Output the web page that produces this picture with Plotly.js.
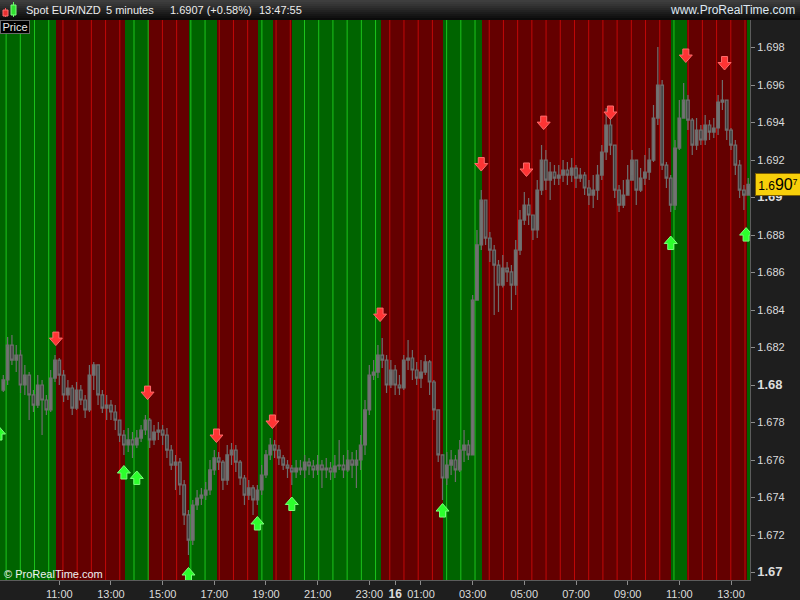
<!DOCTYPE html>
<html>
<head>
<meta charset="utf-8">
<script src="https://cdn.plot.ly/plotly-3.0.1.min.js"></script>
<style>html,body{margin:0;padding:0;background:#1e1e1e;}#chart{width:800px;height:600px;}</style>
</head>
<body>
<div id="chart"></div>
<script>
// ---------- DATA ----------
var barStart = '2014-10-15 08:50';   // first 10-minute candle
var barMinutes = 10;
var firstOpen = 1.67973;
var close = [1.68027,1.68213,1.68133,1.68160,1.68000,1.68053,1.67947,1.67893,1.68000,1.67920,
1.67867,1.68037,1.68133,1.68053,1.67947,1.67984,1.67877,1.67973,1.67920,1.67867,
1.68053,1.68107,1.67947,1.67877,1.67893,1.67856,1.67813,1.67733,1.67680,1.67707,
1.67680,1.67717,1.67760,1.67813,1.67707,1.67749,1.67760,1.67733,1.67653,1.67573,
1.67589,1.67467,1.67307,1.67173,1.67360,1.67397,1.67413,1.67440,1.67547,1.67611,
1.67589,1.67493,1.67627,1.67653,1.67589,1.67504,1.67413,1.67451,1.67387,1.67440,
1.67520,1.67627,1.67680,1.67653,1.67611,1.67573,1.67557,1.67536,1.67557,1.67547,
1.67589,1.67568,1.67547,1.67573,1.67547,1.67557,1.67536,1.67568,1.67573,1.67547,
1.67600,1.67573,1.67600,1.67680,1.67867,1.68053,1.68069,1.68160,1.68133,1.68000,
1.68080,1.68000,1.67984,1.68133,1.68144,1.68080,1.68037,1.68069,1.68123,1.68016,
1.67867,1.67627,1.67504,1.67573,1.67600,1.67547,1.67653,1.67680,1.67627,1.68453,
1.68747,1.68987,1.68784,1.68720,1.68640,1.68533,1.68624,1.68603,1.68533,1.68720,
1.68880,1.68960,1.68907,1.68827,1.69040,1.69200,1.69093,1.69136,1.69104,1.69120,
1.69147,1.69120,1.69157,1.69104,1.69120,1.69051,1.69013,1.69040,1.69120,1.69243,
1.69387,1.69280,1.69040,1.68960,1.69013,1.69093,1.69200,1.69040,1.69104,1.69136,
1.69200,1.69424,1.69600,1.69173,1.69104,1.68960,1.69264,1.69424,1.69520,1.69413,
1.69280,1.69360,1.69307,1.69387,1.69349,1.69371,1.69509,1.69520,1.69360,1.69280,
1.69173,1.69040,1.69013,1.69070];
var high = [1.68053,1.68256,1.68267,1.68213,1.68187,1.68107,1.68069,1.67973,1.68053,1.68027,
1.67947,1.68080,1.68160,1.68144,1.68080,1.68027,1.68000,1.68016,1.68000,1.67947,
1.68107,1.68123,1.68107,1.67973,1.67947,1.67920,1.67893,1.67813,1.67760,1.67771,
1.67749,1.67760,1.67787,1.67840,1.67824,1.67787,1.67803,1.67787,1.67771,1.67680,
1.67627,1.67611,1.67493,1.67333,1.67387,1.67440,1.67451,1.67483,1.67600,1.67653,
1.67643,1.67600,1.67680,1.67691,1.67680,1.67600,1.67520,1.67493,1.67467,1.67467,
1.67573,1.67653,1.67717,1.67707,1.67680,1.67627,1.67600,1.67573,1.67600,1.67600,
1.67627,1.67611,1.67600,1.67627,1.67600,1.67611,1.67589,1.67627,1.67707,1.67627,
1.67653,1.67643,1.67653,1.67733,1.67920,1.68107,1.68133,1.68213,1.68251,1.68160,
1.68133,1.68107,1.68053,1.68160,1.68240,1.68187,1.68123,1.68133,1.68160,1.68133,
1.68027,1.67867,1.67627,1.67643,1.67653,1.67627,1.67707,1.67760,1.67707,1.68480,
1.68827,1.69040,1.68987,1.68816,1.68747,1.68667,1.68693,1.68656,1.68640,1.68773,
1.68933,1.69029,1.68997,1.68907,1.69093,1.69280,1.69253,1.69189,1.69173,1.69173,
1.69200,1.69189,1.69211,1.69173,1.69157,1.69136,1.69093,1.69120,1.69173,1.69280,
1.69477,1.69424,1.69280,1.69067,1.69093,1.69173,1.69253,1.69200,1.69157,1.69227,
1.69264,1.69493,1.69803,1.69627,1.69189,1.69120,1.69307,1.69520,1.69611,1.69547,
1.69424,1.69424,1.69387,1.69440,1.69413,1.69424,1.69547,1.69627,1.69520,1.69371,
1.69307,1.69200,1.69067,1.69104];
var low = [1.67963,1.68000,1.68107,1.68069,1.67957,1.67947,1.67813,1.67856,1.67877,1.67733,
1.67840,1.67856,1.68016,1.68000,1.67909,1.67920,1.67840,1.67867,1.67893,1.67824,
1.67856,1.67973,1.67893,1.67851,1.67813,1.67813,1.67760,1.67696,1.67627,1.67643,
1.67611,1.67664,1.67696,1.67733,1.67664,1.67680,1.67707,1.67680,1.67611,1.67547,
1.67440,1.67413,1.67253,1.67093,1.67147,1.67333,1.67360,1.67387,1.67413,1.67520,
1.67547,1.67440,1.67467,1.67573,1.67536,1.67467,1.67360,1.67387,1.67307,1.67360,
1.67413,1.67504,1.67600,1.67611,1.67573,1.67547,1.67504,1.67467,1.67504,1.67520,
1.67504,1.67520,1.67504,1.67520,1.67451,1.67504,1.67493,1.67504,1.67547,1.67504,
1.67536,1.67504,1.67451,1.67547,1.67627,1.67840,1.68027,1.68037,1.68091,1.67957,
1.67984,1.67947,1.67947,1.67973,1.68080,1.68027,1.68000,1.67984,1.68053,1.67947,
1.67813,1.67589,1.67387,1.67467,1.67520,1.67483,1.67536,1.67589,1.67600,1.67627,
1.68453,1.68720,1.68747,1.68656,1.68373,1.68389,1.68520,1.68549,1.68400,1.68480,
1.68693,1.68853,1.68853,1.68773,1.68784,1.69013,1.69040,1.68987,1.69067,1.69067,
1.69083,1.69067,1.69083,1.69051,1.69083,1.69013,1.68960,1.68944,1.68987,1.69093,
1.69200,1.69227,1.68997,1.68923,1.68944,1.69013,1.69120,1.68960,1.69029,1.69067,
1.69093,1.69189,1.69387,1.69147,1.69051,1.68923,1.68933,1.69253,1.69424,1.69360,
1.69227,1.69253,1.69280,1.69280,1.69307,1.69317,1.69333,1.69467,1.69307,1.69253,
1.69120,1.68997,1.68933,1.69013];

// trend bands (edges and direction of each band)
var bandEdges = ['2014-10-15 08:30','2014-10-15 10:52','2014-10-15 13:33','2014-10-15 14:27','2014-10-15 16:01',
 '2014-10-15 17:06','2014-10-15 18:41','2014-10-15 19:16','2014-10-15 20:01','2014-10-15 23:27',
 '2014-10-16 01:52','2014-10-16 03:21','2014-10-16 10:41','2014-10-16 11:17','2014-10-16 13:36','2014-10-16 14:00'];
var bandTrend = ['up','down','up','down','up','down','up','down','up','down','up','down','up','down','up'];
var stripeStart = '2014-10-15 08:56:30';
var stripeStepMin = 33;

// signals
var sellTimes = ['2014-10-15 10:52','2014-10-15 14:25','2014-10-15 17:05','2014-10-15 19:15','2014-10-15 23:25',
 '2014-10-16 03:20','2014-10-16 05:05','2014-10-16 05:45','2014-10-16 08:20','2014-10-16 11:15','2014-10-16 12:45'];
var sellPrices = [1.68245,1.67957,1.67728,1.67803,1.68373,1.69176,1.69147,1.69397,1.69451,1.69755,1.69715];
var buyTimes = ['2014-10-15 08:40','2014-10-15 13:30','2014-10-15 14:00','2014-10-15 16:00','2014-10-15 18:40',
 '2014-10-15 20:00','2014-10-16 01:50','2014-10-16 10:40','2014-10-16 13:35'];
var buyPrices = [1.67744,1.67536,1.67507,1.66992,1.67264,1.67368,1.67333,1.68760,1.68805];

// axes
var xTickTimes = ['2014-10-15 11:00','2014-10-15 13:00','2014-10-15 15:00','2014-10-15 17:00','2014-10-15 19:00',
 '2014-10-15 21:00','2014-10-15 23:00','2014-10-16 00:00','2014-10-16 01:00','2014-10-16 03:00','2014-10-16 05:00',
 '2014-10-16 07:00','2014-10-16 09:00','2014-10-16 11:00','2014-10-16 13:00'];
var xTickText = ['11:00','13:00','15:00','17:00','19:00','21:00','23:00','<b><span style="font-size:12px">16</span></b>',
 '01:00','03:00','05:00','07:00','09:00','11:00','13:00'];
var yTickVals = [1.670,1.672,1.674,1.676,1.678,1.680,1.682,1.684,1.686,1.688,1.690,1.692,1.694,1.696,1.698];
var yTickText = ['<b><span style="font-size:13px">1.67</span></b>','1.672','1.674','1.676','1.678',
 '<b><span style="font-size:13px">1.68</span></b>','1.682','1.684','1.686','1.688',
 '<b><span style="font-size:13px">1.69</span></b>','1.692','1.694','1.696','1.698'];
var xRange = ['2014-10-15 08:42:18','2014-10-16 13:44:06'];
var yRange = [1.66960, 1.69947];

// ---------- BUILD ----------
function ms(s){ return Date.parse(s.replace(' ','T')+'Z'); }
var t0 = ms(barStart), step = barMinutes*60000;
var xs = [], open = [];
for (var i=0;i<close.length;i++){ xs.push(t0+i*step); open.push(i===0?firstOpen:close[i-1]); }

var GREEN='#006400', RED='#640000', GLINE='#1cc41c', RLINE='#c00808';
var bandX=[], bandW=[], bandC=[];
for (var k=0;k<bandTrend.length;k++){
  var a=ms(bandEdges[k]), b=ms(bandEdges[k+1]);
  bandX.push(a+(b-a)/2); bandW.push(b-a); bandC.push(bandTrend[k]==='up'?GREEN:RED);
}
var gx=[],gy=[],rx=[],ry=[];
var sEnd = ms(bandEdges[bandEdges.length-1]);
for (var t=ms(stripeStart); t<sEnd; t+=stripeStepMin*60000){
  var up=null;
  for (var k=0;k<bandTrend.length;k++){ if (t>=ms(bandEdges[k]) && t<ms(bandEdges[k+1])) up = bandTrend[k]==='up'; }
  if (up){ gx.push(t,t,null); gy.push(0,1,null);} else { rx.push(t,t,null); ry.push(0,1,null);}
}

var FONT='Liberation Sans, Arial, sans-serif';
var traces = [
 {type:'bar', x:bandX, y:bandX.map(function(){return 1;}), width:bandW, marker:{color:bandC, line:{width:0}},
  xaxis:'x', yaxis:'y', hoverinfo:'skip'},
 {type:'scatter', mode:'lines', x:gx, y:gy, line:{color:GLINE,width:1}, xaxis:'x', yaxis:'y', hoverinfo:'skip'},
 {type:'scatter', mode:'lines', x:rx, y:ry, line:{color:RLINE,width:1}, xaxis:'x', yaxis:'y', hoverinfo:'skip'},
 {type:'candlestick', x:xs, open:open, high:high, low:low, close:close, xaxis:'x', yaxis:'y2',
  increasing:{line:{color:'#6e6e6e',width:1.2}, fillcolor:'#737373'},
  decreasing:{line:{color:'#6e6e6e',width:1.2}, fillcolor:'#404040'},
  whiskerwidth:0, hoverinfo:'skip'}
];

function py(px){ return (580-px)/560; }
function pxx(px){ return px/750; }
var shapes=[];
// signal arrows: block arrow path in pixels, anchored at each signal's time/price
var downPath='M-3,7 L3,7 L3,1 L6.5,1 L0,-6.5 L-6.5,1 L-3,1 Z';
var upPath='M-3,-7 L3,-7 L3,-1 L6.5,-1 L0,6.5 L-6.5,-1 L-3,-1 Z';
sellTimes.forEach(function(tt,j){
  shapes.push({type:'path', xref:'x', yref:'y2', xsizemode:'pixel', ysizemode:'pixel', xanchor:ms(tt), yanchor:sellPrices[j],
    path:downPath, fillcolor:'#ff3434', line:{color:'#ff6a6a',width:1}, layer:'above'});
});
buyTimes.forEach(function(tt,j){
  shapes.push({type:'path', xref:'x', yref:'y2', xsizemode:'pixel', ysizemode:'pixel', xanchor:ms(tt), yanchor:buyPrices[j],
    path:upPath, fillcolor:'#2cff2c', line:{color:'#7aff7a',width:1}, layer:'above'});
});
var hdr=['#3e3e3e','#393939','#343434','#2e2e2e','#282828','#222222','#1c1c1c','#161616','#111111','#0b0b0b'];
for (var s=0;s<hdr.length;s++){
  shapes.push({type:'rect', xref:'paper', yref:'paper', x0:0, x1:pxx(800), y0:py(2*s+2), y1:py(2*s), fillcolor:hdr[s], line:{width:0}, layer:'above'});
}
// logo candles
shapes.push({type:'line', xref:'paper', yref:'paper', x0:pxx(5.5), x1:pxx(5.5), y0:py(17), y1:py(8), line:{color:'#ff5050',width:1}, layer:'above'});
shapes.push({type:'rect', xref:'paper', yref:'paper', x0:pxx(3), x1:pxx(8), y0:py(16), y1:py(10), fillcolor:'#e83030', line:{color:'#ff7070',width:1}, layer:'above'});
shapes.push({type:'line', xref:'paper', yref:'paper', x0:pxx(13.5), x1:pxx(13.5), y0:py(17), y1:py(2), line:{color:'#60ff60',width:1}, layer:'above'});
shapes.push({type:'rect', xref:'paper', yref:'paper', x0:pxx(11), x1:pxx(16), y0:py(15), y1:py(5), fillcolor:'#30e030', line:{color:'#80ff80',width:1}, layer:'above'});

var hf={family:FONT, size:11, color:'#ececec'};
var annotations=[
 {xref:'paper', yref:'paper', x:pxx(24), y:py(10), xanchor:'left', yanchor:'middle', text:'Spot EUR/NZD', showarrow:false, font:hf},
 {xref:'paper', yref:'paper', x:pxx(104), y:py(10), xanchor:'left', yanchor:'middle', text:'5 minutes', showarrow:false, font:hf},
 {xref:'paper', yref:'paper', x:pxx(168), y:py(10), xanchor:'left', yanchor:'middle', text:'1.6907 (+0.58%)', showarrow:false, font:hf},
 {xref:'paper', yref:'paper', x:pxx(257), y:py(10), xanchor:'left', yanchor:'middle', text:'13:47:55', showarrow:false, font:hf},
 {xref:'paper', yref:'paper', x:pxx(797), y:py(10), xanchor:'right', yanchor:'middle', text:'www.ProRealTime.com', showarrow:false, font:{family:FONT,size:12,color:'#dfe8f2'}},
 {xref:'paper', yref:'paper', x:0, y:1, xanchor:'left', yanchor:'top', text:'Price', showarrow:false,
  font:{family:FONT,size:11,color:'#e6e6e6'}, bgcolor:'#000000', bordercolor:'#6a6a6a', borderwidth:1, borderpad:0, width:28, height:12},
 {xref:'paper', yref:'paper', x:pxx(2), y:py(574), xanchor:'left', yanchor:'middle', text:'© ProRealTime.com', showarrow:false,
  font:{family:FONT,size:11,color:'#f0f0f0'}},
 {xref:'paper', yref:'y2', x:pxx(755), y:close[close.length-1], xanchor:'left', yanchor:'middle',
  text:'1.6<span style="font-size:16px">90</span><sup>7</sup>', showarrow:false,
  font:{family:FONT,size:12,color:'#000000'}, bgcolor:'#f7cf0a', bordercolor:'#7a5c00', borderwidth:1, borderpad:1, width:42, height:19}
];

var layout = {
 width:800, height:600, margin:{l:0,r:50,t:20,b:20},
 paper_bgcolor:'#1e1e1e', plot_bgcolor:'#000000', showlegend:false, bargap:0, boxgap:0.12,
 font:{family:FONT, color:'#dcdcdc'},
 xaxis:{type:'date', range:xRange.map(ms), tickmode:'array', tickvals:xTickTimes.map(ms), ticktext:xTickText,
   ticks:'outside', ticklen:4, tickcolor:'#8c8c8c', tickfont:{family:FONT,size:11,color:'#dcdcdc'},
   showgrid:false, zeroline:false, showline:true, linecolor:'#5c5c5c', fixedrange:true, rangeslider:{visible:false}},
 yaxis:{range:[0,1], visible:false, fixedrange:true},
 yaxis2:{overlaying:'y', side:'right', anchor:'x', range:yRange, tickmode:'array', tickvals:yTickVals, ticktext:yTickText,
   ticks:'outside', ticklen:4, tickcolor:'#8c8c8c', tickfont:{family:FONT,size:11,color:'#dcdcdc'},
   showgrid:false, zeroline:false, showline:true, linecolor:'#5c5c5c', fixedrange:true},
 shapes:shapes, annotations:annotations
};
Plotly.newPlot('chart', traces, layout, {displayModeBar:false, staticPlot:true});
</script>
</body>
</html>
